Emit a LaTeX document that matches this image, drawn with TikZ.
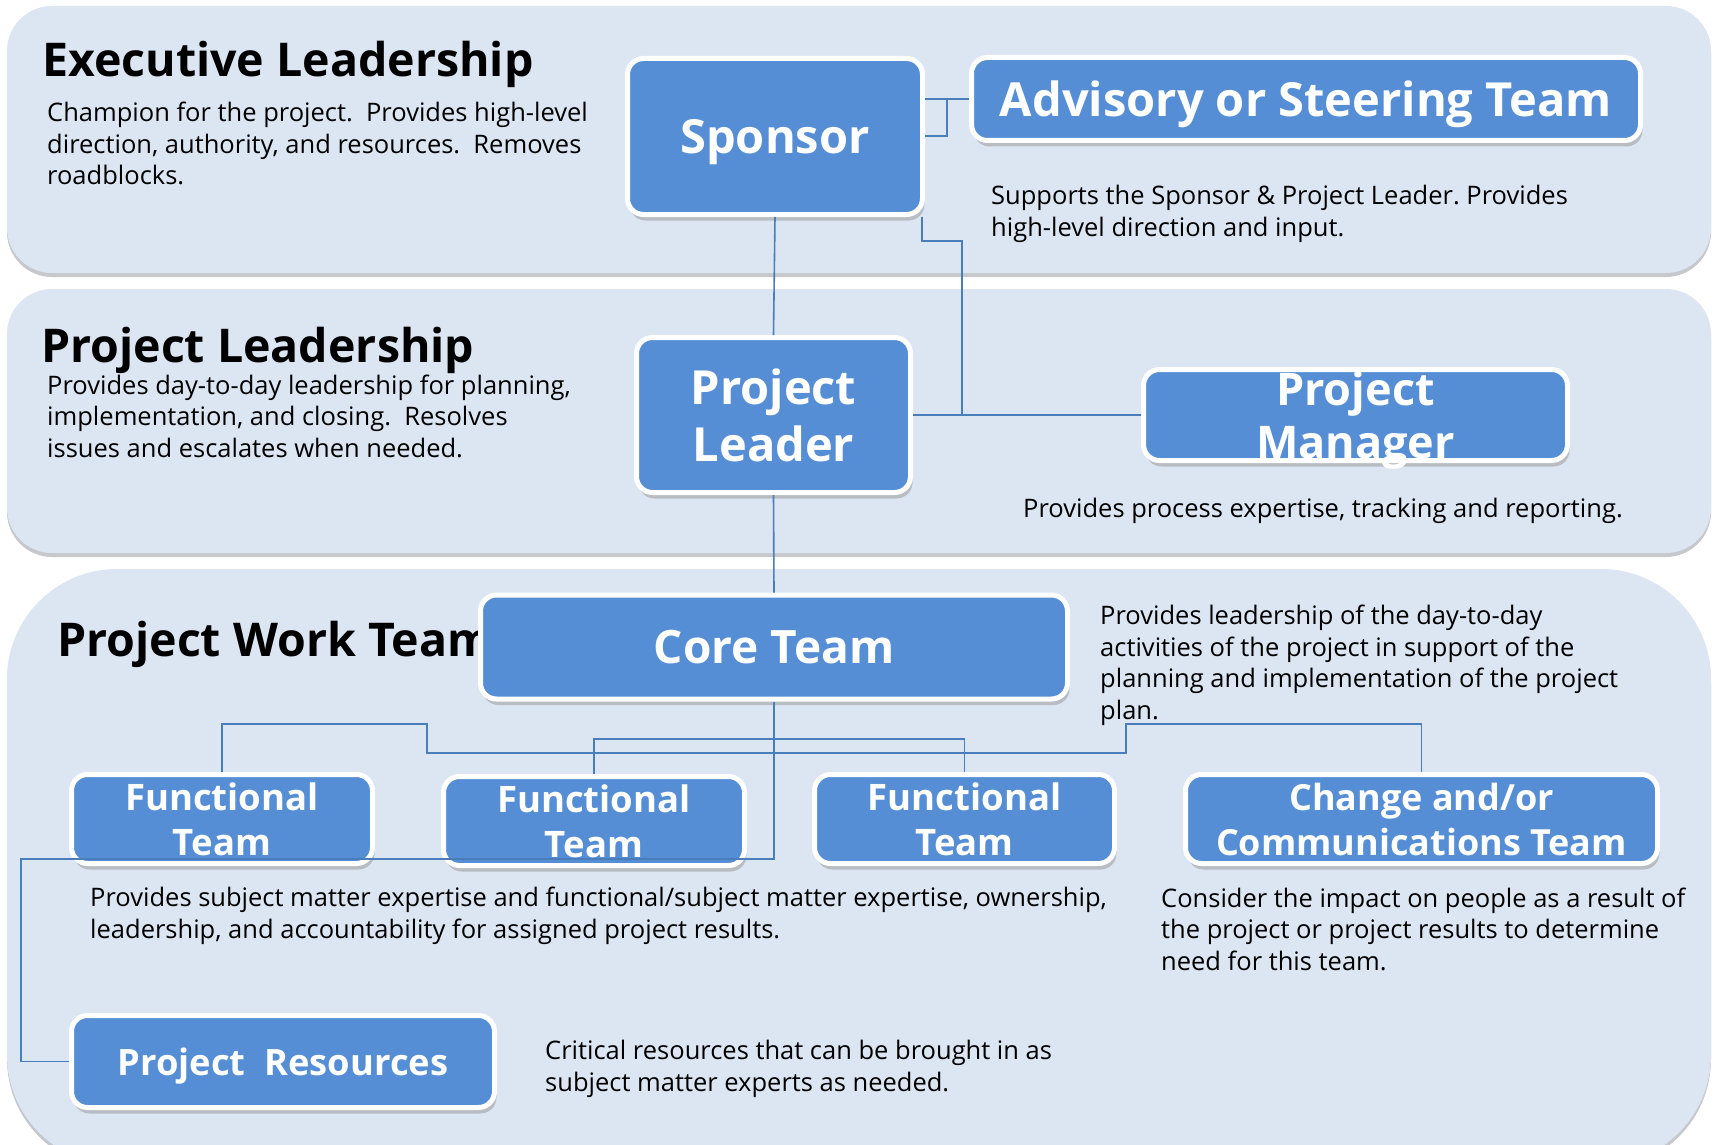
\documentclass[tikz,border=0pt]{standalone}
\usepackage{fontspec}
\setmainfont{Open Sans}
\usetikzlibrary{shadows}
\definecolor{bandfill}{HTML}{DCE6F2}
\definecolor{bandshade}{HTML}{C6C8CB}
\definecolor{boxblue}{HTML}{558ED5}
\definecolor{boxshade}{HTML}{B8BDC4}
\definecolor{linkblue}{HTML}{4A7EBB}
\tikzset{%
  band/.style={fill=bandfill, drop shadow={shadow xshift=0pt, shadow yshift=-4pt, fill=bandshade, opacity=1}},
  unit/.style={rectangle, rounded corners=16pt, fill=boxblue, draw=white, line width=5pt, text=white,
    inner sep=0pt, align=center, drop shadow={shadow xshift=2pt, shadow yshift=-6pt, fill=boxshade, opacity=1}},
  bigunit/.style={unit, text depth=0pt, font=\bfseries\fontsize{47}{57}\selectfont},
  twoline/.style={unit, font=\bfseries\fontsize{36.5}{45}\selectfont},
  heading/.style={anchor=base west, inner sep=0pt, font=\bfseries\fontsize{46.5}{50}\selectfont},
  % notes sit on the baseline of their last line
  note/.style={anchor=base west, inner sep=0pt, align=left, font=\fontsize{25.5}{31.5}\selectfont},
  link/.style={draw=linkblue, line width=1.6pt}
}

\begin{document}
\frenchspacing
\begin{tikzpicture}[x=1pt,y=-1pt]
\useasboundingbox (0,0) rectangle (1714,1145);
\clip (0,0) rectangle (1714,1145);
\fill[white] (0,0) rectangle (1714,1145);

% the three levels
\fill[band, rounded corners=45pt] (7,6) rectangle (1711,273);
\fill[band, rounded corners=45pt] (7,289) rectangle (1711,553);
\fill[band, rounded corners=110pt] (7,569) rectangle (1711,1165);

\node[heading] (exec) at (42,77) {Executive Leadership};
\node[heading] (lead) at (41,362) {Project Leadership};
\node[heading] (work) at (57,656) {Project Work Team};

\node[note] (execnote) at (47,185) {Champion for the project.\ \ Provides high-level\\direction, authority, and resources.\ \ Removes\\roadblocks.};
\node[note] (steernote) at (991,236) {Supports the Sponsor \& Project Leader. Provides\\high-level direction and input.};
\node[note] (leadnote) at (47,457) {Provides day-to-day leadership for planning,\\implementation, and closing.\ \ Resolves\\issues and escalates when needed.};
\node[note] (pmnote) at (1023,517) {Provides process expertise, tracking and reporting.};
\node[note] (corenote) at (1100,719) {Provides leadership of the day-to-day\\activities of the project in support of the\\planning and implementation of the project\\plan.};
\node[note] (ftnote) at (90,938) {Provides subject matter expertise and functional/subject matter expertise, ownership,\\leadership, and accountability for assigned project results.};
\node[note] (changenote) at (1161,970) {Consider the impact on people as a result of\\the project or project results to determine\\need for this team.};
\node[note] (resnote) at (545,1091) {Critical resources that can be brought in as\\subject matter experts as needed.};

% boxes
\node[bigunit, minimum width=295pt, minimum height=156pt] (sponsor) at (775,136.5) {Sponsor};
\node[bigunit, minimum width=669pt, minimum height=83pt] (advisory) at (1306,99) {Advisory or Steering Team};
\node[unit, font=\bfseries\fontsize{47}{57}\selectfont, minimum width=274pt, minimum height=155pt] (leader) at (773.5,415) {Project\\Leader};
\node[unit, text depth=0pt, font=\bfseries\fontsize{45}{53}\selectfont, minimum width=424pt, minimum height=91pt] (manager) at (1355.5,415) {Project\\Manager};
\node[bigunit, font=\bfseries\fontsize{46}{50}\selectfont, minimum width=587pt, minimum height=104pt] (core) at (774,647) {Core Team};
\node[twoline, minimum width=301pt, minimum height=89pt] (ft1) at (222,819) {Functional\\Team};
\node[twoline, minimum width=301pt, minimum height=89pt] (ft2) at (594,821) {Functional\\Team};
\node[twoline, minimum width=300pt, minimum height=89pt] (ft3) at (964.5,819) {Functional\\Team};
\node[twoline, font=\bfseries\fontsize{36}{45}\selectfont, minimum width=472pt, minimum height=89pt] (change) at (1421.5,819) {Change and/or\\Communications Team};
\node[bigunit, font=\bfseries\fontsize{36.3}{40}\selectfont, minimum width=423pt, minimum height=92pt] (resources) at (283,1061.5) {Project\ \ Resources};

% connectors
\coordinate (steer) at (947,136);
\coordinate (tap) at (962,241);
\coordinate (resknee) at (21,859);
\coordinate (teamrail) at (774,739);
\coordinate (railA) at (427,724);
\coordinate (railB) at (1126,753);
\draw[link] (sponsor.south) -- (leader.north);
\draw[link] (leader.south) -- (core.north);
\draw[link] (advisory.west -| sponsor.east) -- (advisory.west);
\draw[link] (steer |- advisory.west) -- (steer) -- (steer -| sponsor.east);
\draw[link] ([xshift=-3pt]sponsor.south east) |- (tap) -- (tap |- manager.west);
\draw[link] (leader.east) -- (manager.west);
\draw[link] (core.south) |- (resknee) |- (resources.west);
\draw[link] (ft2.north) |- (teamrail) -| (ft3.north);
\draw[link] (ft1.north) |- (railA) |- (railB) |- (change.north |- railA) -- (change.north);
\end{tikzpicture}
\end{document}
